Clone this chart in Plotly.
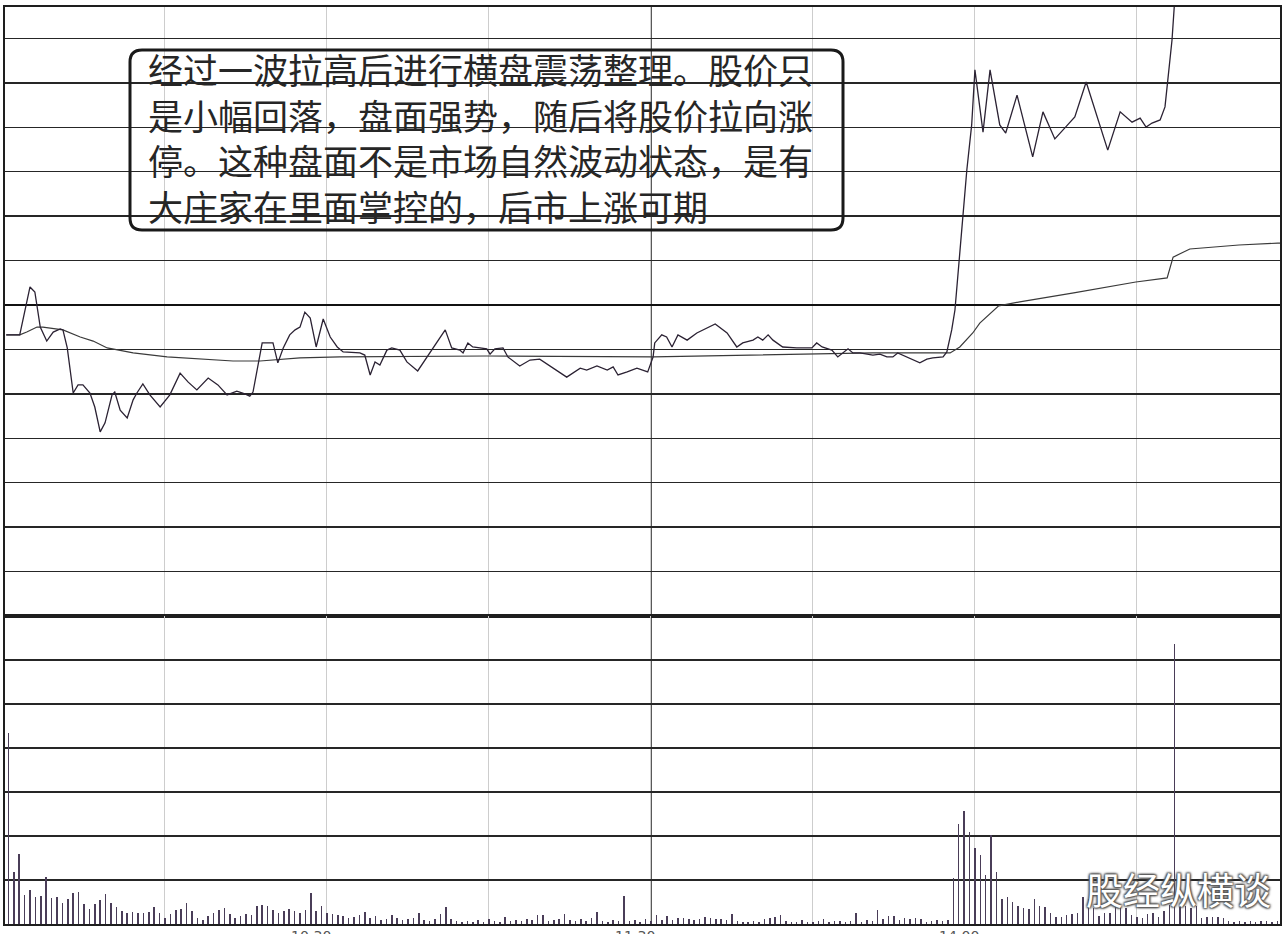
import plotly.graph_objects as go
from plotly.subplots import make_subplots

# ---------------- data ----------------
# minutes after 9:30 open (0..240), price as % change vs previous close
price_t = [0.6, 3.1, 5.0, 5.9, 6.9, 8.1, 9.3, 10.6, 11.1, 11.9,
           13.0, 13.9, 14.8, 16.1, 17.0, 18.0, 18.9, 20.2, 20.7, 21.7,
           23.0, 24.1, 24.8, 25.9, 27.2, 29.1, 30.9, 32.8, 34.3, 35.9,
           38.0, 39.8, 41.5, 43.3, 44.4, 45.7, 46.3, 48.0, 50.0, 50.9,
           51.9, 53.1, 54.1, 55.0, 55.9, 56.9, 58.0, 59.3, 60.6, 61.9,
           63.0, 66.1, 67.0, 68.0, 68.9, 69.8, 71.1, 72.0, 73.5, 74.8,
           76.8, 79.1, 81.9, 83.1, 84.6, 85.2, 86.1, 87.0, 89.6, 90.2,
           91.1, 92.6, 93.5, 95.7, 97.6, 99.4, 101.9, 104.4, 106.9, 108.1,
           110.0, 111.9, 113.0, 113.9, 115.6, 117.4, 119.4, 120.4, 120.7, 122.0,
           122.9, 123.9, 125.0, 126.7, 128.5, 131.9, 134.1, 135.9, 137.0, 138.9,
           139.8, 140.7, 141.7, 142.6, 144.4, 147.0, 149.8, 150.7, 151.7, 153.5,
           154.6, 155.6, 156.5, 157.4, 158.7, 161.1, 162.4, 163.7, 164.8, 165.7,
           167.4, 169.8, 171.1, 172.2, 174.1, 174.8, 175.7, 176.3, 178.5, 179.4,
           180.0, 181.5, 182.8, 184.6, 185.7, 187.8, 189.3, 190.7, 192.6, 194.8,
           197.0, 198.5, 200.6, 203.1, 204.6, 206.9, 209.1, 210.6, 211.7, 212.8,
           214.3, 215.2, 215.7, 216.5, 217.0, 217.3, 240.0]
price_pct = [-0.96, -0.96, 0.58, 0.42, -0.71, -1.16, -0.87, -0.77, -0.80, -1.38,
             -2.83, -2.57, -2.57, -2.83, -3.28, -4.08, -3.79, -2.89, -2.80, -3.38,
             -3.63, -3.05, -2.83, -2.54, -2.89, -3.28, -2.89, -2.19, -2.48, -2.73,
             -2.35, -2.57, -2.89, -2.77, -2.83, -2.93, -2.80, -1.22, -1.22, -1.86,
             -1.38, -0.96, -0.80, -0.71, -0.23, -0.42, -1.35, -0.45, -1.03, -1.35,
             -1.51, -1.54, -1.61, -2.25, -1.83, -1.93, -1.45, -1.38, -1.45, -1.83,
             -2.12, -1.54, -0.80, -1.38, -1.45, -1.54, -1.22, -1.35, -1.41, -1.58,
             -1.41, -1.38, -1.67, -1.96, -1.77, -1.74, -2.03, -2.32, -2.03, -2.09,
             -1.96, -2.09, -1.99, -2.25, -2.15, -2.03, -2.15, -1.67, -1.22, -0.96,
             -1.03, -1.35, -0.96, -1.13, -0.90, -0.61, -0.90, -1.35, -1.22, -1.13,
             -1.03, -1.13, -0.96, -1.13, -1.35, -1.38, -1.38, -1.22, -1.35, -1.45,
             -1.67, -1.54, -1.41, -1.54, -1.54, -1.61, -1.58, -1.67, -1.67, -1.54,
             -1.67, -1.86, -1.74, -1.70, -1.67, -1.51, -0.80, -0.16, 4.34, 5.79,
             7.56, 5.56, 7.56, 5.79, 5.53, 6.75, 5.72, 4.76, 6.21, 5.34,
             5.76, 6.05, 7.17, 5.79, 4.98, 6.21, 5.88, 6.01, 5.72, 5.85,
             5.95, 6.37, 7.23, 8.52, 9.81, 10.0, 10.0]

avg_t = [0.6, 3.1, 4.4, 6.3, 7.4, 11.1, 14.3, 16.7, 19.3, 24.1,
         30.4, 36.5, 42.6, 47.6, 55.0, 62.4, 89.6, 120.4, 161.1, 175.4,
         177.2, 179.6, 180.9, 184.4, 188.3, 198.3, 209.8, 215.6, 216.7, 219.8,
         228.9, 236.1, 240.0]
avg_pct = [-0.96, -0.96, -0.87, -0.71, -0.71, -0.80, -1.03, -1.16, -1.38, -1.54,
           -1.67, -1.74, -1.80, -1.80, -1.70, -1.67, -1.64, -1.67, -1.54, -1.54,
           -1.35, -0.90, -0.58, -0.03, 0.10, 0.39, 0.74, 0.87, 1.54, 1.80,
           1.93, 1.99, 2.00]

vol_t = list(range(1, 241))
volume = [9550, 2600, 3500, 1450, 1700, 1350, 1400, 2350, 1300, 1350,
          1050, 1250, 1550, 1600, 1000, 750, 1000, 1200, 1500, 1050,
          850, 650, 550, 600, 550, 550, 600, 850, 550, 300,
          500, 700, 750, 1050, 650, 300, 200, 400, 550, 700,
          800, 500, 300, 400, 500, 450, 900, 950, 900, 700,
          550, 650, 750, 650, 550, 700, 1550, 650, 900, 550,
          500, 450, 400, 300, 350, 450, 600, 300, 400, 200,
          250, 450, 300, 200, 250, 300, 550, 200, 150, 250,
          500, 850, 250, 150, 100, 150, 100, 200, 100, 250,
          150, 100, 350, 150, 200, 150, 250, 200, 450, 450,
          150, 200, 250, 500, 200, 150, 250, 150, 300, 600,
          150, 100, 200, 150, 1400, 150, 200, 100, 250, 150,
          450, 200, 400, 200, 300, 300, 250, 200, 250, 350,
          300, 250, 250, 200, 500, 150, 100, 100, 150, 100,
          250, 300, 350, 450, 150, 100, 100, 200, 100, 100,
          150, 250, 100, 150, 150, 100, 150, 550, 100, 200,
          150, 700, 250, 400, 400, 200, 300, 250, 300, 250,
          100, 150, 200, 150, 200, 2300, 5000, 5650, 4600, 3800,
          3450, 2450, 4450, 2600, 1250, 1350, 1100, 900, 800, 750,
          1250, 900, 850, 550, 350, 350, 450, 500, 550, 1350,
          1250, 800, 400, 550, 550, 900, 950, 800, 450, 350,
          300, 500, 550, 350, 650, 950, 14000, 850, 900, 800,
          900, 300, 350, 350, 350, 300, 150, 100, 150, 100,
          150, 100, 150, 150, 100, 150, 100, 150, 100, 150]

time_tick_pos = [60, 120, 180]
time_tick_text = ["10:30", "11:30", "14:00"]

note_lines = ["经过一波拉高后进行横盘震荡整理。股价只",
              "是小幅回落，盘面强势，随后将股价拉向涨",
              "停。这种盘面不是市场自然波动状态，是有",
              "大庄家在里面掌控的，后市上涨可期"]
watermark = "股经纵横谈"

LIMIT = 10.0          # daily limit, %
GRID_DIV = 7          # grid rows on each side of previous close
price_grid = [LIMIT * k / GRID_DIV for k in range(-GRID_DIV + 1, GRID_DIV)]

# ---------------- layout geometry (pixels) ----------------
W, H = 1288, 934
L, R, T, B = 5, 1280, 7, 924
SPLIT = 616
ZERO_Y = 305


def px(x):
    return (x - L) / (R - L)


def py(y):
    return (B - y) / (B - T)


CJK = "Noto Sans CJK SC"
NOTE_FONT = "DejaVu Sans, Noto Sans CJK SC"

fig = make_subplots(rows=2, cols=1, shared_xaxes=True, vertical_spacing=0,
                    row_heights=[SPLIT - T, B - SPLIT])

fig.add_trace(go.Scatter(x=avg_t, y=avg_pct, mode="lines",
                         line=dict(color="#3a3a3a", width=1.2),
                         hoverinfo="skip", showlegend=False), row=1, col=1)
fig.add_trace(go.Scatter(x=price_t, y=price_pct, mode="lines",
                         line=dict(color="#2b2233", width=1.3),
                         hoverinfo="skip", showlegend=False), row=1, col=1)
fig.add_trace(go.Bar(x=vol_t, y=volume, width=0.28,
                     marker=dict(color="#4a3d58", line=dict(width=0)),
                     hoverinfo="skip", showlegend=False), row=2, col=1)

axis_line = dict(showline=True, mirror=True, linecolor="#1e1e1e", linewidth=2)
xcommon = dict(range=[0.37, 236.5], tick0=0, dtick=30, showgrid=True,
               gridcolor="#cdcdcd", gridwidth=1, zeroline=False,
               showticklabels=False, ticks="", **axis_line)
fig.update_xaxes(**xcommon, row=1, col=1)
fig.update_xaxes(**xcommon, row=2, col=1)

fig.update_yaxes(range=[-LIMIT, (ZERO_Y - T) / ((SPLIT - ZERO_Y) / LIMIT)],
                 tickmode="array", tickvals=price_grid, showgrid=True,
                 gridcolor="#262626", gridwidth=1.4, zeroline=True,
                 zerolinecolor="#111111", zerolinewidth=2.2,
                 showticklabels=False, ticks="", **axis_line, row=1, col=1)
fig.update_yaxes(range=[0, 15400], tick0=0, dtick=2200, showgrid=True,
                 gridcolor="#262626", gridwidth=1.4, zeroline=False,
                 showticklabels=False, ticks="", **axis_line, row=2, col=1)

# dark mid-day separator
fig.add_shape(type="line", xref="x", yref="paper", x0=120, x1=120, y0=0, y1=1,
              line=dict(color="#222222", width=1.6), layer="below")

# rounded note box
bx0, bx1, by0, by1, rr = 130, 843, 50, 230, 12
path = (f"M {px(bx0+rr)},{py(by0)} L {px(bx1-rr)},{py(by0)} "
        f"Q {px(bx1)},{py(by0)} {px(bx1)},{py(by0+rr)} "
        f"L {px(bx1)},{py(by1-rr)} Q {px(bx1)},{py(by1)} {px(bx1-rr)},{py(by1)} "
        f"L {px(bx0+rr)},{py(by1)} Q {px(bx0)},{py(by1)} {px(bx0)},{py(by1-rr)} "
        f"L {px(bx0)},{py(by0+rr)} Q {px(bx0)},{py(by0)} {px(bx0+rr)},{py(by0)} Z")
fig.add_shape(type="path", xref="paper", yref="paper", path=path,
              line=dict(color="#1a1a1a", width=3), fillcolor="rgba(0,0,0,0)",
              layer="above")

# note text as one multi-line block
fig.add_annotation(xref="paper", yref="paper", x=px(146), y=py(140),
                   xanchor="left", yanchor="middle", align="left",
                   text="<br>".join(note_lines), showarrow=False,
                   font=dict(family=NOTE_FONT, size=35, color="#262626"))

# time labels (cut by the bottom edge as in the source)
for pos, lab in zip(time_tick_pos, time_tick_text):
    fig.add_annotation(xref="x2", yref="paper", x=pos, y=py(926),
                       xanchor="center", yanchor="top", xshift=-16,
                       text=lab, showarrow=False,
                       font=dict(family="DejaVu Sans", size=14, color="#555555"))

# watermark
fig.add_annotation(xref="paper", yref="paper", x=px(1178), y=py(889),
                   xanchor="center", yanchor="middle", text=watermark,
                   showarrow=False,
                   font=dict(family=CJK, size=37, color="#ffffff",
                             shadow="1px 1px 2px #555, -1px -1px 2px #555, 1px -1px 2px #555, -1px 1px 2px #555"))

fig.update_layout(width=W, height=H,
                  margin=dict(l=L, r=W - R, t=T, b=H - B, pad=0),
                  paper_bgcolor="#ffffff", plot_bgcolor="#ffffff",
                  bargap=0, showlegend=False)

fig.write_html("out.html",
               config={"displayModeBar": False, "staticPlot": True},
               post_script="document.body.style.margin='0';"
                           "document.body.style.padding='0';"
                           "document.body.style.overflow='hidden';")
